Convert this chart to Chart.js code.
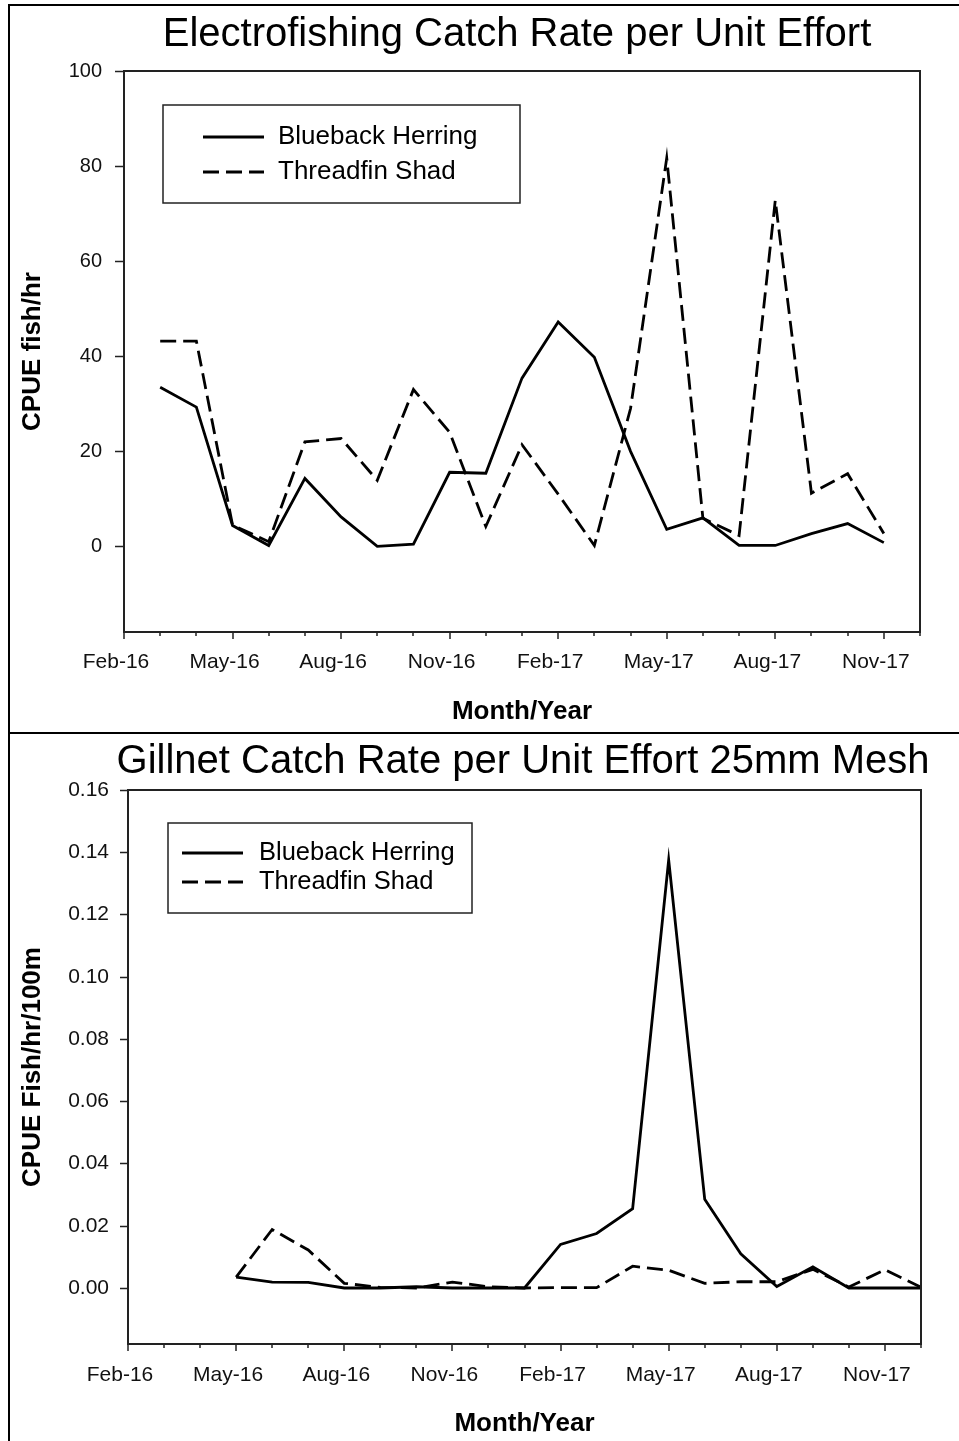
<!DOCTYPE html>
<html>
<head>
<meta charset="utf-8">
<title>CPUE</title>
<script src="https://cdn.jsdelivr.net/npm/chart.js@4.4.1/dist/chart.umd.min.js"></script>
<style>
  html, body { margin: 0; padding: 0; background: #fff; }
  #page { position: relative; width: 959px; height: 1441px; overflow: hidden; }
  #page canvas { position: absolute; left: 0; }
  #efChart { top: 0; }
  #gnChart { top: 733px; }
  .rule { position: absolute; background: #000; }
</style>
</head>
<body>
<div id="page">
  <canvas id="efChart" width="959" height="733" style="width:959px;height:733px"></canvas>
  <canvas id="gnChart" width="959" height="708" style="width:959px;height:708px"></canvas>
  <div class="rule" style="left:8px;top:4px;width:2px;height:1437px"></div>
  <div class="rule" style="left:8px;top:4px;width:951px;height:2px"></div>
  <div class="rule" style="left:8px;top:732px;width:951px;height:2px"></div>
</div>
<script>
// months on the x axis, Feb-16 through Dec-17
var months = ['Feb-16', 'Mar-16', 'Apr-16', 'May-16', 'Jun-16', 'Jul-16', 'Aug-16', 'Sep-16',
  'Oct-16', 'Nov-16', 'Dec-16', 'Jan-17', 'Feb-17', 'Mar-17', 'Apr-17', 'May-17', 'Jun-17',
  'Jul-17', 'Aug-17', 'Sep-17', 'Oct-17', 'Nov-17', 'Dec-17'];

// electrofishing CPUE (fish/hr)
var efBlueback = [null, 33.5, 29.3, 4.4, 0.2, 14.3, 6.2, 0.0, 0.5, 15.6, 15.4, 35.4, 47.2,
  39.8, 20.0, 3.6, 6.0, 0.2, 0.2, 2.7, 4.8, 0.8, null];
var efThreadfin = [null, 43.2, 43.2, 4.5, 1.0, 22.0, 22.7, 13.9, 33.0, 24.0, 4.2, 21.4, 11.0,
  0.2, 29.0, 81.7, 5.9, 2.3, 72.8, 11.2, 15.3, 2.7, null];

// gillnet CPUE, 25mm mesh (fish/hr/100m)
var gnBlueback = [null, null, null, 0.0035, 0.0019, 0.0018, 0.0000, 0.0000, 0.0004, 0.0000,
  0.0000, 0.0000, 0.0140, 0.0175, 0.0255, 0.1375, 0.0285, 0.0110, 0.0005, 0.0068, 0.0000,
  0.0000, 0.0000];
var gnThreadfin = [null, null, null, 0.0035, 0.0188, 0.0122, 0.0015, 0.0002, 0.0000, 0.0019,
  0.0004, 0.0000, 0.0001, 0.0001, 0.0070, 0.0057, 0.0015, 0.0020, 0.0020, 0.0060, 0.0003,
  0.0059, 0.0002];

var efTicks = [0, 20, 40, 60, 80, 100];
var gnTicks = [0, 0.02, 0.04, 0.06, 0.08, 0.10, 0.12, 0.14, 0.16];

var seriesNames = ['Blueback Herring', 'Threadfin Shad'];

Chart.defaults.font.family = '"Liberation Sans", Arial, sans-serif';
Chart.defaults.color = '#000';

// chart heading, centred over the plot (wider than the plot, so no maxWidth squeeze)
var heading = {
  id: 'heading',
  afterDraw: function (chart, args, o) {
    var ctx = chart.ctx, a = chart.chartArea;
    ctx.save();
    ctx.font = o.size + 'px "Liberation Sans", Arial, sans-serif';
    ctx.fillStyle = '#000';
    ctx.textAlign = 'center';
    ctx.textBaseline = 'middle';
    ctx.fillText(o.text, (a.left + a.right) / 2 + o.dx, o.y);
    ctx.restore();
  }
};

// month ticks under the plot, plot frame, and value ticks on the left
var frameTicks = {
  id: 'frameTicks',
  afterDraw: function (chart, args, o) {
    var ctx = chart.ctx, a = chart.chartArea;
    var xs = chart.scales.x, ys = chart.scales.y;
    ctx.save();
    ctx.strokeStyle = '#222';
    ctx.lineWidth = 1.5;
    ctx.beginPath();
    xs.ticks.forEach(function (t, i) {
      var px = Math.round(xs.getPixelForTick(i));
      var len = i % 3 === 0 ? o.major : o.minor;
      ctx.moveTo(px, a.bottom);
      ctx.lineTo(px, a.bottom + len);
    });
    ys.ticks.forEach(function (t) {
      var py = Math.round(ys.getPixelForValue(t.value)) + 0.5;
      ctx.moveTo(a.left - o.yLen, py);
      ctx.lineTo(a.left, py);
    });
    ctx.stroke();
    ctx.lineWidth = 2;
    ctx.strokeRect(a.left, a.top, a.right - a.left, a.bottom - a.top);
    ctx.restore();
  }
};

// boxed legend inside the plot, top left
var boxLegend = {
  id: 'boxLegend',
  afterDraw: function (chart, args, o) {
    var ctx = chart.ctx, a = chart.chartArea;
    var bx = a.left + o.x, by = a.top + o.y;
    ctx.save();
    ctx.strokeStyle = '#222';
    ctx.lineWidth = 1.5;
    ctx.strokeRect(bx, by, o.w, o.h);
    ctx.font = o.font;
    ctx.textBaseline = 'middle';
    chart.data.datasets.forEach(function (ds, i) {
      var ly = by + o.rows[i];
      ctx.strokeStyle = ds.borderColor;
      ctx.lineWidth = ds.borderWidth;
      ctx.setLineDash(ds.borderDash || []);
      ctx.beginPath();
      ctx.moveTo(bx + o.lineX, ly);
      ctx.lineTo(bx + o.lineX + o.lineW, ly);
      ctx.stroke();
      ctx.setLineDash([]);
      ctx.fillStyle = '#000';
      ctx.fillText(ds.label, bx + o.textX, ly);
    });
    ctx.restore();
  }
};

function makeChart(id, c) {
  return new Chart(document.getElementById(id), {
    type: 'line',
    data: {
      labels: months,
      datasets: [{
        label: seriesNames[0],
        data: c.blueback,
        borderColor: '#000',
        borderWidth: 2.8,
        pointRadius: 0,
        tension: 0,
        fill: false
      }, {
        label: seriesNames[1],
        data: c.threadfin,
        borderColor: '#000',
        borderWidth: 2.8,
        borderDash: [16, 7],
        pointRadius: 0,
        tension: 0,
        fill: false
      }]
    },
    plugins: [heading, frameTicks, boxLegend],
    options: {
      responsive: false,
      animation: false,
      events: [],
      devicePixelRatio: 1,
      layout: { padding: { left: 0, right: c.padRight, top: c.padTop, bottom: 0 } },
      plugins: {
        legend: { display: false },
        tooltip: { enabled: false },
        title: { display: false },
        heading: c.heading,
        frameTicks: { major: 7, minor: 4, yLen: c.yTickLen },
        boxLegend: c.legend
      },
      scales: {
        x: {
          type: 'category',
          offset: false,
          border: { display: false },
          grid: { display: false, drawTicks: true, tickLength: 7 },
          ticks: {
            autoSkip: false,
            maxRotation: 0,
            minRotation: 0,
            padding: c.xLabelPad,
            labelOffset: -8,
            color: '#111',
            font: { size: 21 },
            callback: function (val, idx) {
              return idx % 3 === 0 ? this.getLabelForValue(val) : '';
            }
          },
          title: {
            display: true,
            text: 'Month/Year',
            color: '#000',
            font: { size: 26, weight: 'bold' },
            padding: { top: 0, bottom: c.xTitlePad }
          },
          afterFit: function (s) { s.height = c.xHeight; }
        },
        y: {
          type: 'linear',
          min: c.yMin,
          max: c.yMax,
          border: { display: false },
          grid: { display: false, drawTicks: true, tickLength: c.yTickLen },
          afterBuildTicks: function (s) {
            s.ticks = c.yTicks.map(function (v) { return { value: v }; });
          },
          ticks: {
            padding: c.yLabelPad,
            color: '#111',
            font: { size: c.yFont },
            callback: function (v) { return v.toFixed(c.decimals); }
          },
          title: {
            display: true,
            text: c.yTitle,
            color: '#000',
            font: { size: 26, weight: 'bold' },
            padding: { top: 17, bottom: 0 }
          },
          afterFit: function (s) { s.width = c.yWidth; }
        }
      }
    }
  });
}

makeChart('efChart', {
  heading: { text: 'Electrofishing Catch Rate per Unit Effort', size: 40, y: 35, dx: -5 },
  blueback: efBlueback,
  threadfin: efThreadfin,
  yTitle: 'CPUE fish/hr',
  yMin: -18, yMax: 100, yTicks: efTicks, decimals: 0,
  yFont: 20, yTickLen: 9, yLabelPad: 13, yWidth: 124,
  xHeight: 101, xLabelPad: 11, xTitlePad: 6,
  padRight: 39, padTop: 71,
  legend: { x: 39, y: 34, w: 357, h: 98, lineX: 40, lineW: 61, textX: 115,
    rows: [32, 67], font: '26px "Liberation Sans", Arial, sans-serif' }
});

makeChart('gnChart', {
  heading: { text: 'Gillnet Catch Rate per Unit Effort 25mm Mesh', size: 40, y: 29, dx: -1.5 },
  blueback: gnBlueback,
  threadfin: gnThreadfin,
  yTitle: 'CPUE Fish/hr/100m',
  yMin: -0.018, yMax: 0.16, yTicks: gnTicks, decimals: 2,
  yFont: 21, yTickLen: 8, yLabelPad: 11, yWidth: 128,
  xHeight: 97, xLabelPad: 12, xTitlePad: 2,
  padRight: 38, padTop: 57,
  legend: { x: 40, y: 33, w: 304, h: 90, lineX: 14, lineW: 61, textX: 91,
    rows: [30, 59], font: '25.5px "Liberation Sans", Arial, sans-serif' }
});
</script>
</body>
</html>
